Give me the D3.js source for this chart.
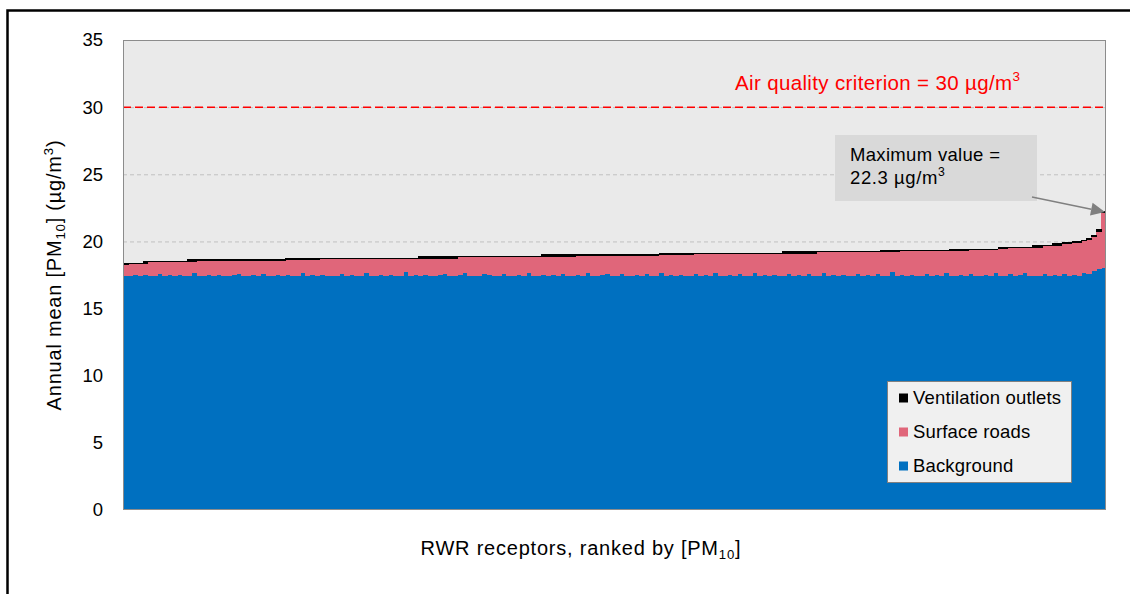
<!DOCTYPE html>
<html><head><meta charset="utf-8">
<script src="https://cdn.jsdelivr.net/npm/d3@7"></script>
<style>
body{margin:0;background:#fff}
svg{display:block}
text{font-family:"Liberation Sans",Arial,sans-serif}
</style>
</head><body>
<svg id="chart" width="1130" height="594"></svg>
<script>
// ---------------- DATA ----------------
const background = [
 17.40,17.44,17.47,17.45,17.52,17.46,17.44,17.58,17.45,17.47,
 17.44,17.50,17.46,17.45,17.62,17.46,17.44,17.48,17.45,17.53,
 17.46,17.44,17.47,17.56,17.45,17.44,17.49,17.46,17.60,17.45,
 17.44,17.47,17.45,17.52,17.46,17.44,17.66,17.45,17.47,17.44,
 17.50,17.46,17.45,17.44,17.57,17.46,17.48,17.45,17.44,17.62,
 17.46,17.45,17.48,17.44,17.53,17.46,17.45,17.70,17.44,17.47,
 17.45,17.52,17.46,17.44,17.48,17.58,17.45,17.44,17.47,17.63,
 17.45,17.46,17.44,17.55,17.47,17.45,17.44,17.60,17.46,17.45,
 17.48,17.44,17.66,17.46,17.45,17.52,17.44,17.47,17.45,17.58,
 17.46,17.44,17.49,17.45,17.62,17.46,17.44,17.47,17.54,17.45,
 17.44,17.60,17.46,17.45,17.48,17.44,17.56,17.46,17.45,17.68,
 17.44,17.47,17.45,17.52,17.46,17.44,17.58,17.45,17.47,17.44,
 17.62,17.46,17.45,17.50,17.44,17.55,17.46,17.45,17.64,17.44,
 17.47,17.45,17.53,17.46,17.44,17.60,17.45,17.48,17.44,17.57,
 17.46,17.45,17.66,17.44,17.47,17.45,17.52,17.46,17.44,17.61,
 17.45,17.48,17.44,17.55,17.46,17.45,17.70,17.44,17.47,17.45,
 17.52,17.46,17.44,17.58,17.45,17.47,17.44,17.63,17.46,17.45,
 17.50,17.44,17.57,17.46,17.45,17.48,17.44,17.62,17.46,17.45,
 17.54,17.44,17.47,17.66,17.45,17.46,17.44,17.58,17.45,17.48,
 17.44,17.60,17.46,17.52,17.45,17.64,17.55,17.80,17.92,18.00];

const surfaceRoads = [
 0.86,0.86,0.83,0.85,0.80,1.00,1.02,0.88,1.01,0.99,
 1.02,0.96,1.00,1.03,0.86,1.10,1.12,1.08,1.11,1.03,
 1.10,1.12,1.09,1.00,1.11,1.12,1.07,1.10,0.96,1.11,
 1.12,1.09,1.11,1.10,1.16,1.18,0.96,1.17,1.15,1.18,
 1.20,1.24,1.25,1.26,1.13,1.24,1.22,1.25,1.26,1.08,
 1.24,1.25,1.22,1.26,1.17,1.24,1.25,1.00,1.26,1.23,
 1.27,1.20,1.26,1.28,1.24,1.14,1.27,1.28,1.35,1.19,
 1.37,1.36,1.38,1.27,1.35,1.37,1.38,1.22,1.36,1.37,
 1.34,1.38,1.16,1.36,1.37,1.34,1.42,1.39,1.41,1.28,
 1.40,1.42,1.46,1.50,1.33,1.49,1.51,1.48,1.41,1.50,
 1.51,1.35,1.49,1.50,1.47,1.51,1.39,1.49,1.50,1.28,
 1.52,1.49,1.51,1.44,1.50,1.52,1.49,1.62,1.60,1.63,
 1.45,1.61,1.62,1.57,1.63,1.52,1.61,1.62,1.43,1.63,
 1.60,1.62,1.54,1.61,1.66,1.50,1.65,1.62,1.66,1.53,
 1.64,1.74,1.53,1.75,1.72,1.74,1.67,1.73,1.75,1.58,
 1.74,1.71,1.75,1.64,1.74,1.75,1.50,1.76,1.79,1.81,
 1.74,1.80,1.82,1.68,1.81,1.79,1.82,1.63,1.82,1.83,
 1.78,1.84,1.80,1.91,1.92,1.89,1.93,1.75,1.94,1.95,
 1.96,2.06,2.03,1.84,2.05,2.08,2.10,2.06,2.19,2.20,
 2.24,2.22,2.36,2.40,2.47,2.36,2.57,2.50,2.78,4.15];

const ventilationOutlets = [
 0.10,0.10,0.10,0.10,0.24,0.10,0.10,0.10,0.10,0.10,
 0.10,0.10,0.10,0.18,0.18,0.10,0.10,0.10,0.10,0.10,
 0.10,0.10,0.10,0.10,0.10,0.10,0.10,0.10,0.10,0.10,
 0.10,0.10,0.10,0.16,0.16,0.16,0.16,0.16,0.16,0.16,
 0.10,0.10,0.10,0.10,0.10,0.10,0.10,0.10,0.10,0.10,
 0.10,0.10,0.10,0.10,0.10,0.10,0.10,0.10,0.10,0.10,
 0.18,0.18,0.18,0.18,0.18,0.18,0.18,0.18,0.10,0.10,
 0.10,0.10,0.10,0.10,0.10,0.10,0.10,0.10,0.10,0.10,
 0.10,0.10,0.10,0.10,0.10,0.18,0.18,0.18,0.18,0.18,
 0.18,0.18,0.10,0.10,0.10,0.10,0.10,0.10,0.10,0.10,
 0.10,0.10,0.10,0.10,0.10,0.10,0.10,0.10,0.10,0.17,
 0.17,0.17,0.17,0.17,0.17,0.17,0.10,0.10,0.10,0.10,
 0.10,0.10,0.10,0.10,0.10,0.10,0.10,0.10,0.10,0.10,
 0.10,0.10,0.10,0.10,0.18,0.18,0.18,0.18,0.18,0.18,
 0.18,0.10,0.10,0.10,0.10,0.10,0.10,0.10,0.10,0.10,
 0.10,0.10,0.10,0.10,0.14,0.14,0.14,0.14,0.10,0.10,
 0.10,0.10,0.10,0.10,0.10,0.10,0.10,0.10,0.16,0.16,
 0.16,0.16,0.10,0.10,0.10,0.10,0.10,0.10,0.16,0.16,
 0.10,0.10,0.10,0.10,0.10,0.18,0.18,0.10,0.10,0.18,
 0.18,0.13,0.13,0.13,0.13,0.12,0.13,0.15,0.20,0.15];

const receptorRanks = d3.range(1, background.length + 1);
const yTickValues = [0, 5, 10, 15, 20, 25, 30, 35];
const criterionValue = 30;
const maxValue = 22.3;
const seriesKeys = ["background", "surface", "ventilation"];
const seriesLabels = ["Background", "Surface roads", "Ventilation outlets"];
const seriesColors = ["#0070C0", "#E0667A", "#000000"];

// ---------------- CHART ----------------
const svg = d3.select("#chart");
const P = {left: 123, right: 1106, top: 40, bottom: 510};
const FONT = 18.5;
const TITLE_FONT = 20;

// outer frame (left/top visible)
svg.append("rect").attr("x", 7.5).attr("y", 10.5).attr("width", 1140).attr("height", 600)
  .attr("fill", "#fff").attr("stroke", "#000").attr("stroke-width", 2.5);

const x = d3.scaleBand().domain(receptorRanks).range([P.left, P.right]).padding(0);
const y = d3.scaleLinear().domain([0, 35]).range([P.bottom, P.top]);

// plot background
svg.append("rect").attr("x", P.left).attr("y", P.top)
  .attr("width", P.right - P.left).attr("height", P.bottom - P.top).attr("fill", "#EAEAEA");

// gridlines
svg.append("g").selectAll("line").data(yTickValues.filter(v => v > 0 && v < 35)).join("line")
  .attr("x1", P.left).attr("x2", P.right).attr("y1", d => y(d) + 0.5).attr("y2", d => y(d) + 0.5)
  .attr("stroke", "#C0C0C0").attr("stroke-width", 1).attr("stroke-dasharray", "4,3");

// stacked bars
const rows = receptorRanks.map((r, i) => ({rank: r, background: background[i], surface: surfaceRoads[i], ventilation: ventilationOutlets[i]}));
const stacked = d3.stack().keys(seriesKeys)(rows);
svg.append("clipPath").attr("id", "plotclip").append("rect")
  .attr("x", P.left).attr("y", P.top).attr("width", P.right - P.left).attr("height", P.bottom - P.top);
const barsG = svg.append("g").attr("clip-path", "url(#plotclip)");
stacked.forEach((s, k) => {
  barsG.append("g").attr("fill", seriesColors[k]).attr("shape-rendering", "crispEdges")
    .selectAll("rect").data(s).join("rect")
    .attr("x", d => x(d.data.rank))
    .attr("width", x.bandwidth() + 0.6)
    .attr("y", d => y(d[1]))
    .attr("height", d => y(d[0]) - y(d[1]));
});

// criterion line
svg.append("line").attr("x1", P.left).attr("x2", P.right)
  .attr("y1", y(criterionValue)).attr("y2", y(criterionValue))
  .attr("stroke", "#FF0000").attr("stroke-width", 1.5).attr("stroke-dasharray", "8,4");

// plot border
svg.append("rect").attr("x", P.left + 0.5).attr("y", P.top + 0.5)
  .attr("width", P.right - P.left - 1).attr("height", P.bottom - P.top - 1)
  .attr("fill", "none").attr("stroke", "#8C8C8C").attr("stroke-width", 1);

// y axis labels
const yAxis = d3.axisLeft(y).tickValues(yTickValues).tickSize(0).tickPadding(20);
const yG = svg.append("g").attr("transform", `translate(${P.left},0)`).call(yAxis);
yG.select(".domain").remove();
yG.selectAll("text").attr("font-size", FONT).attr("font-family", '"Liberation Sans",Arial,sans-serif').attr("fill", "#000");

// rich text helper
function rich(sel, parts, fs) {
  let shift = 0;
  parts.forEach(p => {
    const t = sel.append("tspan").text(p.t).attr("fill", "#000");
    let target = 0;
    if (p.sub) { t.attr("font-size", fs * 0.66); target = fs * 0.22; }
    else if (p.sup) { t.attr("font-size", fs * 0.66); target = -fs * 0.42; }
    if (target - shift !== 0) t.attr("dy", target - shift);
    shift = target;
  });
  return sel;
}
function fit(sel, target) {
  const w = sel.node().getBBox().width;
  const n = sel.text().length;
  sel.style("letter-spacing", ((target - w) / (n - 1)) + "px");
}

// y title
const yTitle = svg.append("text").attr("transform", "translate(61,275) rotate(-90)")
  .attr("text-anchor", "middle").attr("font-size", TITLE_FONT);
rich(yTitle, [{t: "Annual mean [PM"}, {t: "10", sub: true}, {t: "] (µg/m"}, {t: "3", sup: true}, {t: ")"}], TITLE_FONT);
fit(yTitle, 270);

// x title
const xTitle = svg.append("text").attr("x", 581).attr("y", 555)
  .attr("text-anchor", "middle").attr("font-size", TITLE_FONT);
rich(xTitle, [{t: "RWR receptors, ranked by [PM"}, {t: "10", sub: true}, {t: "]"}], TITLE_FONT);
fit(xTitle, 320);

// criterion label
const critLabel = svg.append("text").attr("x", 735).attr("y", 90).attr("font-size", 20.5);
rich(critLabel, [{t: `Air quality criterion = ${criterionValue} µg/m`}, {t: "3", sup: true}], 20.5);
critLabel.selectAll("tspan").attr("fill", "#FF0000");
fit(critLabel, 285);

// annotation box
svg.append("rect").attr("x", 835).attr("y", 135).attr("width", 202).attr("height", 66).attr("fill", "#D9D9D9");
const a1 = svg.append("text").attr("x", 850).attr("y", 161).attr("font-size", FONT).attr("fill", "#000")
  .text("Maximum value =");
fit(a1, 150);
const a2 = svg.append("text").attr("x", 850).attr("y", 184).attr("font-size", FONT);
rich(a2, [{t: `${maxValue} µg/m`}, {t: "3", sup: true}], FONT);
fit(a2, 95);

// arrow
const tipX = P.right - 1, tipY = y(maxValue) + 1.5;
const sx = 1032, sy = 197;
const ang = Math.atan2(tipY - sy, tipX - sx);
const hl = 14, hw = 6.5;
const bx = tipX - hl * Math.cos(ang), by = tipY - hl * Math.sin(ang);
svg.append("line").attr("x1", sx).attr("y1", sy).attr("x2", bx).attr("y2", by)
  .attr("stroke", "#808080").attr("stroke-width", 1.5);
svg.append("path").attr("d", d3.line()([
  [tipX, tipY],
  [bx + hw * Math.sin(ang), by - hw * Math.cos(ang)],
  [bx - hw * Math.sin(ang), by + hw * Math.cos(ang)]
]) + "Z").attr("fill", "#808080");

// legend
const lg = svg.append("g");
lg.append("rect").attr("x", 887.5).attr("y", 381.5).attr("width", 184).attr("height", 101)
  .attr("fill", "#F0F0F0").attr("stroke", "#808080").attr("stroke-width", 1);
const legendOrder = [2, 1, 0];
const rowY = [398, 432, 466];
let spacing = null;
legendOrder.forEach((k, j) => {
  lg.append("rect").attr("x", 899).attr("y", rowY[j] - 4.5).attr("width", 9).attr("height", 9)
    .attr("fill", seriesColors[k]);
  const t = lg.append("text").attr("x", 913).attr("y", rowY[j]).attr("dy", "0.35em")
    .attr("font-size", FONT).attr("fill", "#000").text(seriesLabels[k]);
  if (spacing === null) {
    const w = t.node().getBBox().width;
    spacing = (148 - w) / (seriesLabels[k].length - 1);
  }
  t.style("letter-spacing", spacing + "px");
});
</script>
</body></html>
